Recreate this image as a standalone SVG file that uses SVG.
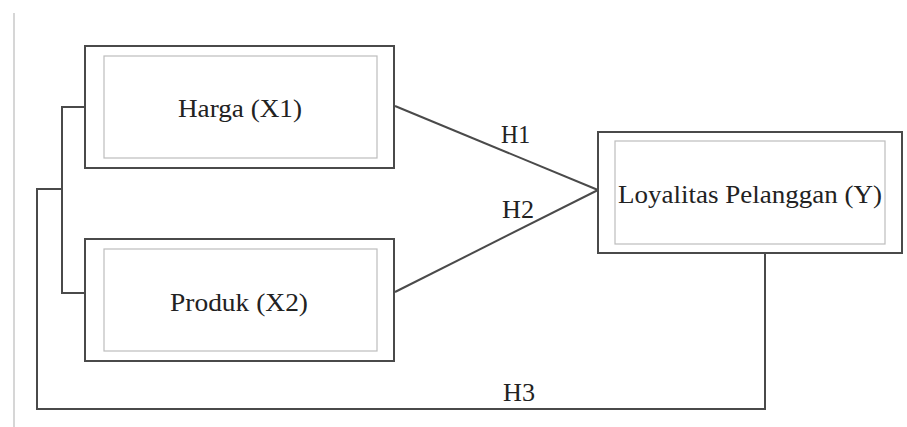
<svg xmlns="http://www.w3.org/2000/svg" width="907" height="427" viewBox="0 0 907 427">
<style>
.outer{fill:#fff;stroke:#4a4a4a;stroke-width:2}
.inner{fill:none;stroke:#bdbdbd;stroke-width:1.2}
.lbl{font-family:"Liberation Serif","Times New Roman",serif;font-size:25px;fill:#222}
.con{fill:none;stroke:#4a4a4a;stroke-width:2}
</style>
<rect width="907" height="427" fill="#fff"/>
<line x1="14" y1="13" x2="14" y2="427" stroke="#c8c8c8" stroke-width="1.5"/>
<g id="connectors">
<polyline class="con" points="85,107 62,107 62,293 85,293"/>
<polyline class="con" points="62,189 37,189 37,409 765,409 765,253"/>
<line class="con" x1="395" y1="106" x2="598" y2="190"/>
<line class="con" x1="395" y1="292" x2="598" y2="190"/>
<text class="lbl" x="501" y="143" textLength="29" lengthAdjust="spacingAndGlyphs">H1</text>
<text class="lbl" x="502" y="218" textLength="32" lengthAdjust="spacingAndGlyphs">H2</text>
<text class="lbl" x="503" y="401" textLength="32" lengthAdjust="spacingAndGlyphs">H3</text>
</g>
<g id="harga">
<rect class="outer" x="85" y="46" width="309" height="122"/>
<rect class="inner" x="104" y="56" width="273" height="102"/>
<text class="lbl" x="178" y="117" textLength="124" lengthAdjust="spacingAndGlyphs">Harga (X1)</text>
</g>
<g id="produk">
<rect class="outer" x="85" y="239" width="309" height="122"/>
<rect class="inner" x="104" y="249" width="273" height="102"/>
<text class="lbl" x="170" y="311" textLength="138" lengthAdjust="spacingAndGlyphs">Produk (X2)</text>
</g>
<g id="loyalitas">
<rect class="outer" x="598" y="132" width="304" height="121"/>
<rect class="inner" x="615" y="141" width="270" height="103"/>
<text class="lbl" x="618" y="203" textLength="264" lengthAdjust="spacingAndGlyphs">Loyalitas Pelanggan (Y)</text>
</g>
</svg>
